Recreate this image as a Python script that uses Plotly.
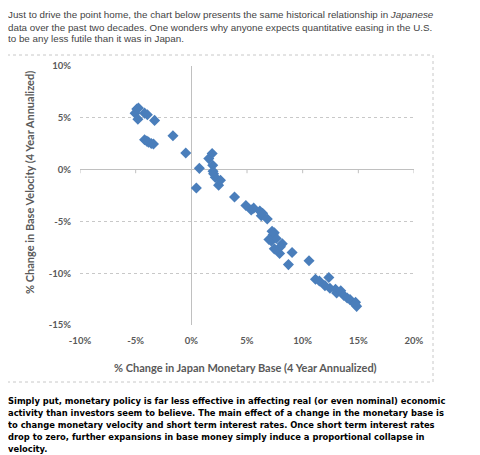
import plotly.graph_objects as go

# Data: % change in Japan monetary base vs % change in base velocity (4-yr annualized)
base_change = [-5.05, -4.9, -4.75, -4.8, -4.2, -3.95, -3.3, -4.2, -4.0, -3.85, -3.6, -3.4,
               -1.65, -0.5, 0.45, 0.72, 1.57, 1.87, 1.92, 1.95, 2.0, 2.15, 2.45, 2.62,
               3.88, 4.9, 5.38, 5.6, 6.15, 6.28, 6.4, 6.82, 7.25, 7.45, 7.35, 6.97, 7.18,
               7.63, 8.17, 8.0, 7.45, 7.93, 9.05, 8.72, 10.57, 11.15, 11.5, 12.35, 12.0,
               12.45, 12.95, 13.05, 13.42, 13.7, 14.0, 14.25, 14.75, 14.7, 14.85]
velocity_change = [5.45, 5.85, 5.95, 4.87, 5.45, 5.3, 4.75, 2.88, 2.75, 2.65, 2.52, 2.47,
                   3.27, 1.6, -1.78, 0.12, 1.06, 1.55, 0.42, -0.16, -0.4, -0.75, -1.5, -1.02,
                   -2.64, -3.46, -3.9, -3.72, -4.0, -4.45, -4.22, -4.76, -5.95, -6.1, -6.3, -6.75, -6.9,
                   -6.65, -7.15, -7.45, -7.65, -8.1, -8.0, -9.17, -8.8, -10.58, -10.75, -10.42, -11.2,
                   -11.45, -11.55, -11.9, -11.7, -12.15, -12.4, -12.55, -12.8, -13.0, -13.2]

x_ticks = [-10, -5, 0, 5, 10, 15, 20]
x_labels = ["-10%", "-5%", "0%", "5%", "10%", "15%", "20%"]
y_ticks = [-15, -10, -5, 0, 5, 10]
y_labels = ["-15%", "-10%", "-5%", "0%", "5%", "10%"]

top_text = [
    "Just to drive the point home, the chart below presents the same historical relationship in <i>Japanese</i>",
    "data over the past two decades. One wonders why anyone expects quantitative easing in the U.S.",
    "to be any less futile than it was in Japan.",
]
bottom_text = [
    "Simply put, monetary policy is far less effective in affecting real (or even nominal) economic",
    "activity than investors seem to believe. The main effect of a change in the monetary base is",
    "to change monetary velocity and short term interest rates. Once short term interest rates",
    "drop to zero, further expansions in base money simply induce a proportional collapse in",
    "velocity.",
]
x_title = "% Change in Japan Monetary Base (4 Year Annualized)"
y_title = "% Change in Base Velocity (4 Year Annualized)"

OFF = 8  # page body margin in the browser
W, H = 480 - OFF, 455 - OFF
L, R, T, B = 80 - OFF, 414 - OFF, 66 - OFF, 325 - OFF  # plot area pixel bounds (figure coords)

def px(xp):
    return (xp - OFF - L) / (R - L)

def py(yp):
    return (B - (yp - OFF)) / (B - T)

fig = go.Figure()
fig.add_trace(go.Scatter(
    x=base_change, y=velocity_change, mode="markers",
    marker=dict(symbol="diamond", size=8.5, color="#4a7ebb", line=dict(width=0)),
    hoverinfo="x+y", showlegend=False,
))

tick_font = dict(family="Lato, Liberation Sans, sans-serif", size=9.5, color="#595959", weight="bold")

fig.update_layout(
    width=W, height=H,
    margin=dict(l=L, r=W - R, t=T, b=H - B, pad=0),
    paper_bgcolor="white", plot_bgcolor="white",
    xaxis=dict(range=[-10, 20], tickvals=x_ticks, ticktext=x_labels, showgrid=False,
               zeroline=True, zerolinecolor="#c0c0c0", zerolinewidth=1, showline=False,
               ticks="outside", ticklen=7, tickcolor="rgba(0,0,0,0)", tickfont=tick_font,
               fixedrange=True),
    yaxis=dict(range=[-15, 10], tickvals=y_ticks, ticktext=y_labels, showgrid=True,
               gridcolor="#c8c8c8", griddash="dot", gridwidth=1,
               zeroline=True, zerolinecolor="#c0c0c0", zerolinewidth=1, showline=False,
               ticks="outside", ticklen=6, tickcolor="rgba(0,0,0,0)", tickfont=tick_font,
               fixedrange=True),
)

# tick marks on the horizontal axis at y = 0
for xv in x_ticks:
    fig.add_shape(type="line", xref="x", yref="y", x0=xv, x1=xv, y0=0, y1=-0.35,
                  line=dict(color="#c0c0c0", width=1))

# chart frame
fig.add_shape(type="rect", xref="paper", yref="paper",
              x0=px(7), x1=px(433), y0=py(382), y1=py(55),
              line=dict(color="#c8c8c8", width=1, dash="dot"), layer="below")

title_font = dict(family="Lato, Liberation Sans, sans-serif", size=11, color="#595959", weight="bold")
fig.add_annotation(text=x_title, xref="paper", yref="paper", x=px(245), y=py(367),
                   xanchor="center", yanchor="middle", showarrow=False, font=title_font)
fig.add_annotation(text=y_title, xref="paper", yref="paper", x=px(29), y=py(183),
                   xanchor="center", yanchor="middle", showarrow=False, font=title_font,
                   textangle=-90)

for i, line in enumerate(top_text):
    fig.add_annotation(text=line, xref="paper", yref="paper", x=px(6), y=py(15 + 12 * i),
                       xanchor="left", yanchor="middle", showarrow=False,
                       font=dict(family="Liberation Sans, Arial, sans-serif", size=9.8, color="#444444"))

for i, line in enumerate(bottom_text):
    fig.add_annotation(text=line, xref="paper", yref="paper", x=px(6), y=py(400 + 12.2 * i),
                       xanchor="left", yanchor="middle", showarrow=False,
                       font=dict(family="DejaVu Sans Condensed, DejaVu Sans, sans-serif", size=9.3,
                                 color="#000000", weight="bold"))

fig.write_html("out.html")
